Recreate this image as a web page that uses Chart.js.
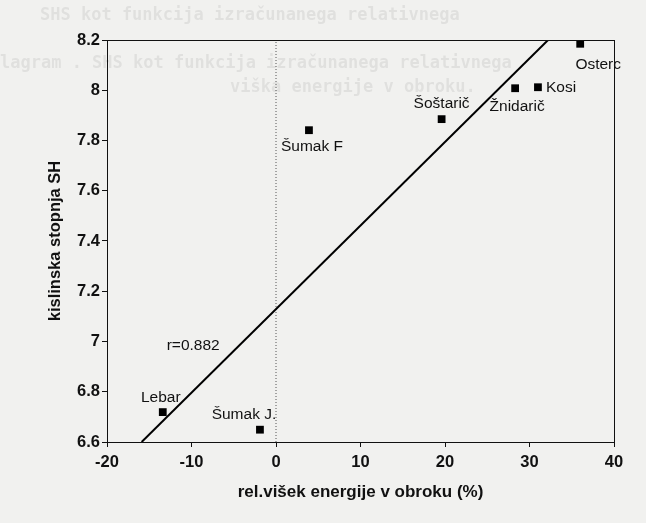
<!DOCTYPE html>
<html>
<head>
<meta charset="utf-8">
<script src="https://cdn.jsdelivr.net/npm/chart.js@4"></script>
<style>
  body { margin: 0; background: #f1f1ef; }
  #wrap { position: relative; width: 646px; height: 523px; }
  .ghost { position: absolute; font-family: 'DejaVu Sans Mono', monospace; font-weight: bold;
           color: rgba(0,0,0,0.07); font-size: 17px; white-space: nowrap; }
</style>
</head>
<body>
<div id="wrap">
  <div class="ghost" style="left:40px;top:4px">SHS kot funkcija izračunanega relativnega</div>
  <div class="ghost" style="left:0px;top:52px">lagram . SHS kot funkcija izračunanega relativnega</div>
  <div class="ghost" style="left:230px;top:76px">viška energije v obroku.</div>
  <canvas id="c" width="646" height="523"></canvas>
</div>
<script>
// people (categories) and their measured values
const names = ['Osterc', 'Kosi', 'Žnidarič', 'Šoštarič', 'Šumak F', 'Lebar', 'Šumak J.'];
const energyExcess = [36, 31, 28.3, 19.6, 3.9, -13.4, -1.9];
const acidity = [8.185, 8.012, 8.008, 7.885, 7.841, 6.719, 6.649];

// regression line end points
const fitX = [-15.9, 32.2];
const fitY = [6.6, 8.2];

const xTicks = [-20, -10, 0, 10, 20, 30, 40];
const yTicks = [6.6, 6.8, 7, 7.2, 7.4, 7.6, 7.8, 8, 8.2];

// where each name is written relative to its point
const labelPos = {
  'Osterc': [18, 21, 'center'],
  'Kosi': [8, 0, 'left'],
  'Žnidarič': [2, 18, 'center'],
  'Šoštarič': [0, -15, 'center'],
  'Šumak F': [3, 17, 'center'],
  'Lebar': [-2, -14, 'center'],
  'Šumak J.': [-16, -15, 'center']
};

const boxPlugin = {
  id: 'box',
  afterDraw(chart) {
    const { ctx, chartArea: a, scales } = chart;
    ctx.save();
    ctx.strokeStyle = '#111';
    ctx.lineWidth = 1;
    ctx.strokeRect(a.left + 0.5, a.top + 0.5, a.right - a.left, a.bottom - a.top);

    ctx.fillStyle = '#111';
    ctx.font = '15.5px "Liberation Sans", Arial, sans-serif';
    ctx.textBaseline = 'middle';
    names.forEach((n, i) => {
      const p = labelPos[n];
      ctx.textAlign = p[2];
      ctx.fillText(n, scales.x.getPixelForValue(energyExcess[i]) + p[0],
        scales.y.getPixelForValue(acidity[i]) + p[1]);
    });
    ctx.textAlign = 'center';
    ctx.fillText('r=0.882', scales.x.getPixelForValue(-9.8), scales.y.getPixelForValue(6.985));
    ctx.restore();
  }
};

const tickFont = { family: '"Liberation Sans", Arial, sans-serif', size: 16.5, weight: 'bold' };
const titleFont = { family: '"Liberation Sans", Arial, sans-serif', size: 17, weight: 'bold' };

new Chart(document.getElementById('c'), {
  type: 'scatter',
  data: {
    datasets: [
      {
        data: energyExcess.map((x, i) => ({ x, y: acidity[i] })),
        pointStyle: 'rect',
        pointRadius: 5.5,
        backgroundColor: '#000',
        borderColor: '#000',
        borderWidth: 0
      },
      {
        type: 'line',
        data: fitX.map((x, i) => ({ x, y: fitY[i] })),
        borderColor: '#000',
        borderWidth: 2,
        pointRadius: 0,
        fill: false
      },
      {
        type: 'line',
        data: [{ x: 0, y: yTicks[0] }, { x: 0, y: yTicks[yTicks.length - 1] }],
        borderColor: '#555',
        borderWidth: 1,
        borderDash: [1, 2],
        pointRadius: 0,
        fill: false
      }
    ]
  },
  options: {
    responsive: false,
    animation: false,
    layout: { padding: { top: 40, right: 32, left: 42, bottom: 16 } },
    plugins: { legend: { display: false }, tooltip: { enabled: false } },
    scales: {
      x: {
        type: 'linear',
        min: -20,
        max: 40,
        afterBuildTicks: s => { s.ticks = xTicks.map(v => ({ value: v })); },
        afterFit: s => { s.height = 65; },
        grid: { drawOnChartArea: false, tickLength: 5, color: '#111' },
        border: { color: '#111' },
        ticks: { color: '#111', font: tickFont, padding: 6 },
        title: { display: true, text: 'rel.višek energije v obroku (%)', color: '#111', font: titleFont, padding: { top: 4 } }
      },
      y: {
        type: 'linear',
        min: 6.6,
        max: 8.2,
        afterBuildTicks: s => { s.ticks = yTicks.map(v => ({ value: v })); },
        afterFit: s => { s.width = 65; },
        grid: { drawOnChartArea: false, tickLength: 5, color: '#111' },
        border: { color: '#111' },
        ticks: { color: '#111', font: tickFont, padding: 2, callback: v => String(+v.toFixed(1)) },
        title: { display: true, text: 'kislinska stopnja SH', color: '#111', font: { ...titleFont, size: 16.5 }, padding: { bottom: 2 } }
      }
    }
  },
  plugins: [boxPlugin]
});
</script>
</body>
</html>
